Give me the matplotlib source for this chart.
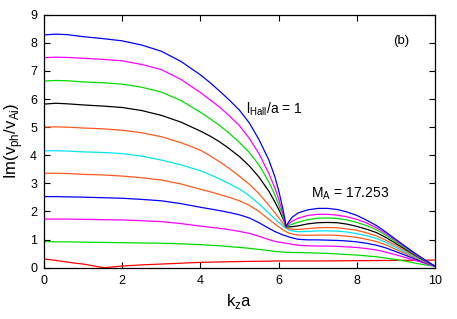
import numpy as np
import matplotlib.pyplot as plt

plt.rcParams['font.family'] = ['Liberation Sans', 'DejaVu Sans']

# k_z a grid, cusp near 6.19
kz = [0, 0.3, 0.6, 1, 1.5, 2, 2.5, 3, 3.5, 4, 4.25, 4.5, 4.75, 5, 5.25, 5.5, 5.75,
      5.9, 6.0, 6.1, 6.15, 6.19, 6.25, 6.35, 6.5, 6.75, 7.0, 7.25, 7.5, 7.75,
      8.0, 8.25, 8.5, 8.75, 9.0, 9.25, 9.5, 9.75, 10]

blue8 = [8.28, 8.31, 8.29, 8.22, 8.15, 8.07, 7.92, 7.70, 7.34, 6.86, 6.58, 6.27, 5.95,
         5.6, 5.15, 4.55, 3.83, 3.25, 2.75, 2.15, 1.8, 1.46,
         1.62, 1.80, 1.95, 2.06, 2.11, 2.11, 2.07, 1.98, 1.86, 1.69, 1.50, 1.26,
         1.00, 0.75, 0.50, 0.27, 0.05]
mag7 = [7.47, 7.49, 7.48, 7.45, 7.41, 7.36, 7.23, 7.05, 6.70, 6.23, 5.97, 5.70, 5.39,
        5.05, 4.6, 4.05, 3.35, 2.85, 2.45, 1.98, 1.72, 1.46,
        1.55, 1.66, 1.76, 1.86, 1.90, 1.90, 1.87, 1.81, 1.72, 1.59, 1.42, 1.21,
        0.97, 0.73, 0.48, 0.26, 0.05]
grn6 = [6.64, 6.66, 6.65, 6.61, 6.58, 6.53, 6.42, 6.25, 5.95, 5.53, 5.30, 5.05, 4.77,
        4.45, 4.1, 3.65, 3.05, 2.6, 2.25, 1.85, 1.65, 1.46,
        1.50, 1.55, 1.62, 1.71, 1.76, 1.77, 1.75, 1.70, 1.61, 1.50, 1.35, 1.15,
        0.92, 0.69, 0.46, 0.25, 0.05]
blk5 = [5.82, 5.85, 5.83, 5.79, 5.75, 5.70, 5.59, 5.42, 5.18, 4.86, 4.68, 4.47, 4.22,
        3.95, 3.62, 3.22, 2.72, 2.35, 2.08, 1.78, 1.62, 1.46,
        1.45, 1.46, 1.49, 1.56, 1.60, 1.61, 1.60, 1.55, 1.47, 1.37, 1.25, 1.07,
        0.86, 0.65, 0.44, 0.24, 0.05]
org5 = [5.0, 5.01, 5.0, 4.97, 4.94, 4.89, 4.80, 4.66, 4.45, 4.18, 3.98, 3.76, 3.52,
        3.25, 2.97, 2.63, 2.22, 1.96, 1.78, 1.6, 1.5, 1.43,
        1.39, 1.37, 1.36, 1.39, 1.42, 1.43, 1.42, 1.38, 1.33, 1.24, 1.13, 0.97,
        0.79, 0.60, 0.41, 0.23, 0.05]
cyn4 = [4.16, 4.16, 4.15, 4.12, 4.10, 4.06, 3.97, 3.83, 3.66, 3.45, 3.31, 3.15, 2.98,
        2.8, 2.56, 2.27, 1.94, 1.74, 1.62, 1.50, 1.44, 1.40,
        1.35, 1.31, 1.28, 1.29, 1.31, 1.31, 1.30, 1.27, 1.21, 1.14, 1.04, 0.90,
        0.72, 0.55, 0.38, 0.21, 0.05]
org3 = [3.36, 3.36, 3.35, 3.32, 3.30, 3.26, 3.20, 3.12, 2.98, 2.79, 2.70, 2.60, 2.50,
        2.38, 2.22, 2.0, 1.72, 1.56, 1.46, 1.36, 1.31, 1.28,
        1.24, 1.20, 1.16, 1.15, 1.16, 1.16, 1.15, 1.12, 1.08, 1.01, 0.93, 0.81,
        0.65, 0.50, 0.35, 0.20, 0.05]
blu2 = [2.53, 2.53, 2.52, 2.51, 2.49, 2.47, 2.43, 2.38, 2.28, 2.15, 2.09, 2.03, 1.96,
        1.88, 1.77, 1.6, 1.40, 1.29, 1.23, 1.17, 1.15, 1.13,
        1.10, 1.06, 1.01, 0.99, 0.99, 0.98, 0.97, 0.95, 0.92, 0.87, 0.80, 0.70,
        0.57, 0.44, 0.31, 0.18, 0.05]
mag1 = [1.73, 1.73, 1.73, 1.72, 1.71, 1.70, 1.67, 1.64, 1.57, 1.48, 1.44, 1.40, 1.35,
        1.29, 1.22, 1.12, 1.0, 0.94, 0.91, 0.89, 0.88, 0.87,
        0.86, 0.83, 0.80, 0.78, 0.77, 0.77, 0.76, 0.74, 0.72, 0.68, 0.63, 0.55,
        0.46, 0.36, 0.26, 0.15, 0.05]
grn0 = [0.93, 0.92, 0.92, 0.91, 0.90, 0.89, 0.88, 0.87, 0.85, 0.82, 0.80, 0.78, 0.75,
        0.72, 0.69, 0.65, 0.61, 0.58, 0.57, 0.56, 0.55, 0.55,
        0.55, 0.54, 0.54, 0.53, 0.52, 0.51, 0.49, 0.47, 0.45, 0.42, 0.39, 0.34,
        0.29, 0.23, 0.16, 0.10, 0.05]

kz_red = [0, 0.25, 0.5, 0.75, 1, 1.25, 1.4, 1.55, 1.7, 2, 2.5, 3, 3.5, 4, 5, 6, 7, 8, 9, 10]
red = [0.31, 0.27, 0.22, 0.17, 0.13, 0.07, 0.03, 0.0, 0.02, 0.06, 0.10, 0.13, 0.16,
       0.19, 0.22, 0.24, 0.24, 0.25, 0.26, 0.27]

curves = [(grn0, '#00dd00'), (mag1, '#ff00ff'), (blu2, '#0000ff'), (org3, '#ff5a1e'),
          (cyn4, '#00e5ee'), (org5, '#ff5a1e'), (blk5, '#000000'), (grn6, '#00dd00'),
          (mag7, '#ff00ff'), (blue8, '#0000ff')]

fig = plt.figure(figsize=(4.57, 3.19), dpi=100)
ax = fig.add_axes([0.0963, 0.1608, 0.8557, 0.7931])

ax.plot(kz_red, red, color='#ff0000', lw=0.9)
for ys, c in curves:
    ax.plot(kz, ys, color=c, lw=0.9)

ax.set_xlim(0, 10)
ax.set_ylim(0, 9)
ax.set_xticks(range(0, 11, 2))
ax.set_yticks(range(0, 10))
ax.tick_params(direction='in', top=True, right=True, length=4, width=0.8,
               labelsize=9, pad=5)
for s in ax.spines.values():
    s.set_linewidth(0.9)

ax.set_xlabel(r'k$_\mathregular{z}$a', fontsize=12, labelpad=4)
ax.set_ylabel(r'Im(v$_\mathregular{ph}$/v$_\mathregular{Ai}$)', fontsize=12, labelpad=4)

ax.text(5.17, 5.65, r'l$_\mathregular{Hall}$/a = 1', fontsize=10, va='center')
ax.text(6.82, 2.62, r'M$_\mathregular{A}$ = 17.253', fontsize=10, va='center')
ax.text(9.13, 8.07, '(b)', fontsize=9.5, ha='center', va='center')

fig.savefig('out.png', dpi=100)
